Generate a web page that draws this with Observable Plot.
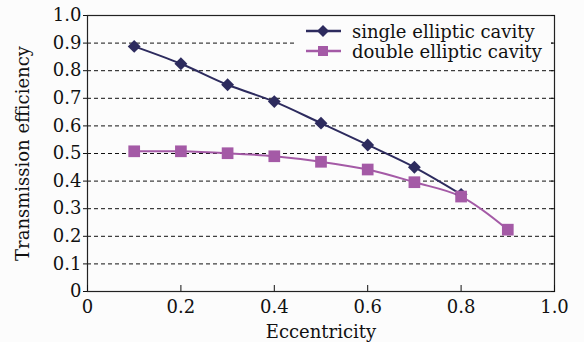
<!DOCTYPE html>
<html>
<head>
<meta charset="utf-8">
<script src="https://cdn.jsdelivr.net/npm/d3@7"></script>
<script src="https://cdn.jsdelivr.net/npm/@observablehq/plot@0.6"></script>
<style>
  html, body { margin: 0; padding: 0; background: #fcfcfc; }
  #wrap { position: relative; width: 584px; height: 342px; }
  #legend { position: absolute; left: 297px; top: 17px; width: 254px; height: 47px; background: #fcfcfc;
    font-family: "DejaVu Serif", serif; font-size: 18px; color: #111; }
  .row { position: absolute; left: 8px; display: flex; align-items: center; white-space: nowrap; }
  .row svg { margin-right: 10px; }
</style>
</head>
<body>
<div id="wrap"></div>
<script>
const eccentricity = [0.1, 0.2, 0.3, 0.4, 0.5, 0.6, 0.7, 0.8, 0.9];
const singleValues = [0.888, 0.825, 0.749, 0.688, 0.61, 0.531, 0.45, 0.352];
const doubleValues = [0.508, 0.508, 0.501, 0.49, 0.47, 0.442, 0.396, 0.344, 0.224];
const seriesNames = ["single elliptic cavity", "double elliptic cavity"];
const seriesColors = ["#2d2b5e", "#a45aa6"];
const xTicks = [0, 0.2, 0.4, 0.6, 0.8, 1.0];
const yTicks = [0, 0.1, 0.2, 0.3, 0.4, 0.5, 0.6, 0.7, 0.8, 0.9, 1.0];
const gridValues = [0.1, 0.2, 0.3, 0.4, 0.5, 0.6, 0.7, 0.8, 0.9];

const single = singleValues.map((v, i) => ({x: eccentricity[i], y: v}));
const dbl = doubleValues.map((v, i) => ({x: eccentricity[i], y: v}));
const fmt = d => d === 0 ? "0" : d.toFixed(1);

const chart = Plot.plot({
  width: 584,
  height: 342,
  marginLeft: 87,
  marginRight: 30,
  marginTop: 15,
  marginBottom: 51,
  style: {background: "#fcfcfc", fontFamily: "DejaVu Serif, serif", fontSize: "18px", color: "#111"},
  x: {domain: [0, 1]},
  y: {domain: [0, 1]},
  marks: [
    Plot.ruleY(gridValues, {y: d => d, stroke: "#111", strokeWidth: 1, strokeDasharray: "4,3"}),
    Plot.frame({stroke: "#222", strokeWidth: 1.2}),
    Plot.axisY(yTicks, {tickSize: 4, tickPadding: 2, tickFormat: fmt, fontSize: 18,
      label: "Transmission efficiency", labelAnchor: "center", labelOffset: 71, labelArrow: "none"}),
    Plot.axisY(yTicks, {anchor: "right", tickSize: -4, tickFormat: () => "", label: null}),
    Plot.axisX(xTicks, {tickSize: 0, tickPadding: 9, tickFormat: fmt, fontSize: 18,
      label: "Eccentricity", labelAnchor: "center", labelOffset: 46, labelArrow: "none"}),
    Plot.axisX(xTicks, {tickSize: -6, tickFormat: () => "", label: null}),
    Plot.line(single, {x: "x", y: "y", stroke: seriesColors[0], strokeWidth: 2, curve: "catmull-rom"}),
    Plot.line(dbl, {x: "x", y: "y", stroke: seriesColors[1], strokeWidth: 2, curve: "catmull-rom"}),
    Plot.dot(single, {x: "x", y: "y", symbol: "diamond2", r: 5.8, fill: seriesColors[0], stroke: "none"}),
    Plot.dot(dbl, {x: "x", y: "y", symbol: "square", r: 6.6, fill: seriesColors[1], stroke: "none"})
  ]
});
const wrap = document.getElementById("wrap");
wrap.appendChild(chart);

const legend = document.createElement("div");
legend.id = "legend";
seriesNames.forEach((name, i) => {
  const row = document.createElement("div");
  row.className = "row";
  row.style.top = (i * 20) + "px";
  const marker = i === 0
    ? `<path d="M18,8 L24,14 L18,20 L12,14 Z" fill="${seriesColors[0]}"/>`
    : `<rect x="13" y="9" width="10" height="10" fill="${seriesColors[1]}"/>`;
  row.innerHTML = `<svg width="37" height="28"><line x1="1" y1="14" x2="36" y2="14" stroke="${seriesColors[i]}" stroke-width="2.5"/>${marker}</svg><span>${name}</span>`;
  legend.appendChild(row);
});
wrap.appendChild(legend);
</script>
</body>
</html>
